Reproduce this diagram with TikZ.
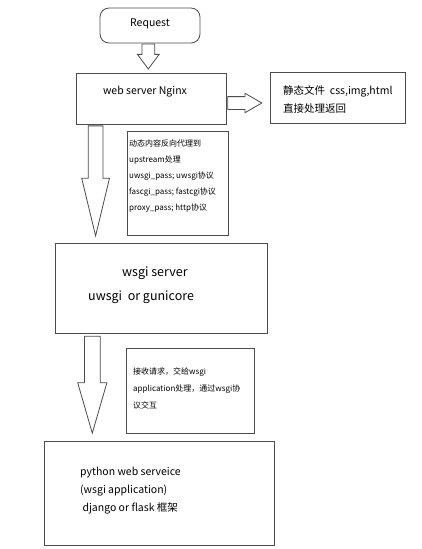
\documentclass[tikz,border=0pt]{standalone}
\usepackage{fontspec}
\setmainfont{Noto Sans CJK SC}
\usetikzlibrary{shapes.arrows}

\begin{document}
\begin{tikzpicture}[x=1pt,y=-1pt,
  box/.style={draw=black!70,line width=0.8pt,inner sep=0pt},
  fatarrow/.style={draw=black!70,line width=0.8pt,fill=white,single arrow,inner sep=0pt,anchor=tip},
  txt/.style={inner sep=0pt,align=left,anchor=west}]

% fix page size
\useasboundingbox (0,0) rectangle (422,549);

% draw boxes
\node[box,rounded corners=9pt,minimum width=100,minimum height=35] (request) at (150,25.5) {};
\node[box,minimum width=150,minimum height=51] (nginx) at (151,98.5) {};
\node[box,minimum width=135,minimum height=51] (static) at (337.5,97.5) {};
\node[box,minimum width=101,minimum height=104] (proxy) at (177.5,183) {};
\node[box,minimum width=212,minimum height=90] (wsgi) at (161,288) {};
\node[box,minimum width=128,minimum height=85] (handover) at (190,390.5) {};
\node[box,minimum width=230,minimum height=104] (app) at (159,493) {};

% add texts
\node[inner sep=0pt,font=\fontsize{10.5}{12}\selectfont] (requesttext) at ([yshift=1.5]request.center) {Request};
\node[inner sep=0pt,font=\fontsize{10.5}{12}\selectfont] (nginxtext) at (145,92) {web server Nginx};
\node[txt,font=\fontsize{10.5}{18}\selectfont] (statictext) at (283,99) {静态文件\ \ css,img,html\\直接处理返回};
\node[txt,font=\fontsize{8}{16}\selectfont] (proxytext) at (129,176) {动态内容反向代理到\\upstream处理\\uwsgi\_pass; uwsgi协议\\fascgi\_pass; fastcgi协议\\proxy\_pass; http协议};
\node[txt,font=\fontsize{12.5}{24}\selectfont] (wsgitext) at (88,285) {\hspace*{34pt}wsgi server\\uwsgi\ \ or gunicore};
\node[txt,font=\fontsize{8}{17}\selectfont] (handovertext) at (133,388) {接收请求，交给wsgi\\application处理，通过wsgi协\\议交互};
\node[txt,font=\fontsize{10.5}{18}\selectfont] (apptext) at (80,491) {python web serveice\\(wsgi application)\\\ django or flask 框架};

% add arrows
\node[fatarrow,shape border rotate=270,minimum height=25,inner xsep=6pt,
  single arrow head extend=4.5,single arrow tip angle=73.7] (a1) at ([xshift=-2.7,yshift=3]nginx.north) {};
\node[fatarrow,minimum height=34,inner ysep=6pt,
  single arrow head extend=3.3,single arrow tip angle=60] (a2) at ([xshift=-7,yshift=-5.5]static.west) {};
\node[fatarrow,shape border rotate=270,minimum height=110,inner xsep=7pt,
  single arrow head extend=6.5,single arrow tip angle=27.1] (a3) at ([xshift=41,yshift=5]wsgi.north west) {};
\node[fatarrow,shape border rotate=270,minimum height=97,inner xsep=7.5pt,
  single arrow head extend=6.7,single arrow tip angle=32.3] (a4) at ([xshift=48.7,yshift=6]app.north west) {};

\end{tikzpicture}
\end{document}
